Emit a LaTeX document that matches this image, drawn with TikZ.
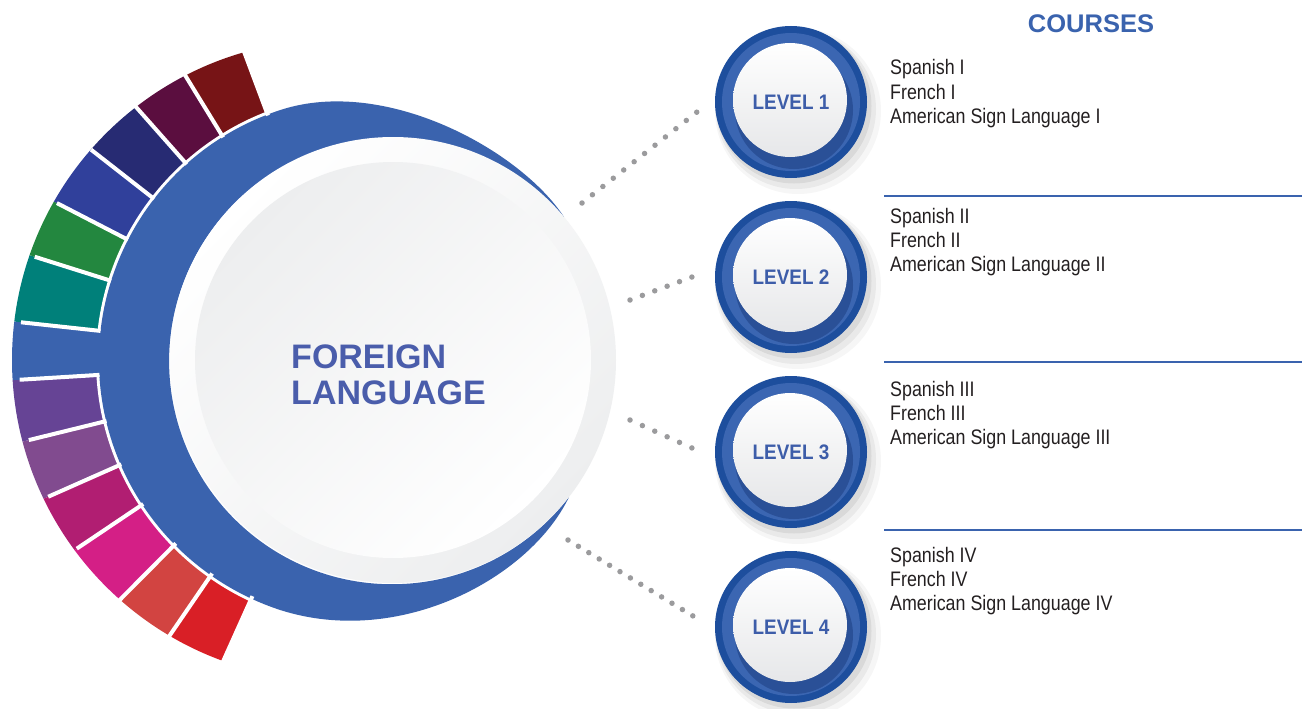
\documentclass[tikz,border=0pt]{standalone}
\usepackage{fontspec}
\setmainfont{Liberation Sans}
\newfontfamily\condfont[FakeStretch=0.85]{Liberation Sans}
\newfontfamily\lvlfont[FakeStretch=0.9]{Liberation Sans}
\definecolor{ringblue}{HTML}{3A63AE}
\definecolor{segteal}{HTML}{00807A}
\definecolor{seggreen}{HTML}{23873F}
\definecolor{segindigo}{HTML}{30409B}
\definecolor{segnavy}{HTML}{272B73}
\definecolor{segwine}{HTML}{5B0E3F}
\definecolor{segdarkred}{HTML}{771416}
\definecolor{segpurple}{HTML}{664495}
\definecolor{segviolet}{HTML}{814B8F}
\definecolor{segplum}{HTML}{B11E72}
\definecolor{segmagenta}{HTML}{D41F86}
\definecolor{segcoral}{HTML}{D24441}
\definecolor{segred}{HTML}{D91F26}
\definecolor{btndark}{HTML}{1D4E9D}
\definecolor{btnmid}{HTML}{3B66B2}
\definecolor{btnshadow}{HTML}{1B3C7E}
\definecolor{lvltext}{HTML}{3D5DA9}
\definecolor{fltext}{HTML}{4A5DAB}
\definecolor{dotgray}{HTML}{9B9B9D}
\definecolor{coursetext}{HTML}{231F20}
\definecolor{discgray}{HTML}{EDEEEF}
\definecolor{btngray}{HTML}{E6E7E9}
\begin{document}
\begin{tikzpicture}[x=1pt,y=-1pt,
  course/.style={font=\condfont\fontsize{21}{21}\selectfont, text=coursetext, inner sep=0pt, anchor=base west},
  lvl/.style={font=\lvlfont\bfseries\fontsize{21}{21}\selectfont, text=lvltext, circle, minimum size=114pt, inner sep=0pt},
  dotline/.style={dotgray, line width=5.5pt, line cap=round, dash pattern=on 0pt off #1},
  gapline/.style={white, line width=4pt},
  rulebar/.style={ringblue, line width=2pt}
]
\useasboundingbox (0,0) rectangle (1302,709);

% coloured segments
\begin{scope}
  \clip (332,360) circle[radius=320];
  \foreach \a/\b/\col in {186.2/197.5/segteal, 197.5/207.3/seggreen, 207.3/218/segindigo,
      218/228.5/segnavy, 228.5/238.5/segwine, 238.5/249.5/segdarkred,
      166.2/176.5/segpurple, 156.1/166.2/segviolet, 146.1/156.1/segplum,
      134.8/146.1/segmagenta, 124.4/134.8/segcoral, 114.2/124.4/segred}
    \fill[\col, shift={(359,359)}] (0,0) -- (\a:400) arc[start angle=\a, end angle=\b, radius=400] -- cycle;
\end{scope}
\fill[white] (362,360) circle[radius=266];

% blue crescent
\fill[ringblue] (563.8,216.7) .. controls (520,150) and (385,76) .. (280.7,109.9)
  arc[start angle=-108, end angle=-252, radius=263]
  .. controls (400,648) and (530,578) .. (569,497)
  arc[start angle=37.5, end angle=320, radius=223] -- cycle;

% blue tab
\begin{scope}
  \clip (332,360) circle[radius=320];
  \fill[ringblue, shift={(359,359)}] (176.5:230) -- (176.5:400)
    arc[start angle=176.5, end angle=186.2, radius=400] -- (186.2:230)
    arc[start angle=186.2, end angle=176.5, radius=230] -- cycle;
\end{scope}
\foreach \a in {114.2,124.4,134.8,146.1,156.1,166.2,176.5,186.2,197.5,207.3,218,228.5,238.5,249.5}
  \draw[gapline, shift={(359,359)}] (\a:260) -- (\a:340);

% central disc
\shade[top color=white, bottom color=discgray, shading angle=45] (393,360) circle[radius=223];
\shade[top color=discgray, bottom color=white, shading angle=45] (393,360) circle[radius=198];
\node[align=left, font=\bfseries\fontsize{34}{36}\selectfont, text=fltext, inner sep=0pt] (FL) at (388.5,375) {FOREIGN\\LANGUAGE};

% dotted connectors
\coordinate (d1s) at (582,203); \coordinate (d1e) at (697,112);
\coordinate (d2s) at (630,300); \coordinate (d2e) at (692,277);
\coordinate (d3s) at (630,420); \coordinate (d3e) at (692,448);
\coordinate (d4s) at (568,540); \coordinate (d4e) at (693,616);
\draw[dotline=13.3pt] (d1s) -- (d1e);
\draw[dotline=13.2pt] (d2s) -- (d2e);
\draw[dotline=13.58pt] (d3s) -- (d3e);
\draw[dotline=12.17pt] (d4s) -- (d4e);

% level buttons
\foreach \i/\y in {1/102,2/277,3/452,4/627}{
  \begin{scope}[shift={(791,\y)}]
    \fill[black, opacity=0.035] (7,9) circle[radius=83];
    \fill[black, opacity=0.05] (5,7) circle[radius=80];
    \fill[black, opacity=0.07] (3,4) circle[radius=77.5];
    \fill[btndark] (0,0) circle[radius=76];
    \fill[btnmid] (0,0) circle[radius=69];
    \fill[btnshadow, opacity=0.5] (3,8) circle[radius=59];
    \shade[top color=white, bottom color=btngray] (-1,-2) circle[radius=57];
  \end{scope}
  \node[lvl] (L\i) at (791,\y) {LEVEL \i};
}

% courses header and rules
\node[font=\bfseries\fontsize{25.5}{25.5}\selectfont, text=ringblue] (courses) at (1091,24) {COURSES};
\coordinate (r1a) at (884,196); \coordinate (r1b) at (1302,196);
\coordinate (r2a) at (884,362); \coordinate (r2b) at (1302,362);
\coordinate (r3a) at (884,530); \coordinate (r3b) at (1302,530);
\draw[rulebar] (r1a) -- (r1b);
\draw[rulebar] (r2a) -- (r2b);
\draw[rulebar] (r3a) -- (r3b);

\foreach \lv/\yb/\r in {1/75/I, 2/223/II, 3/396/III, 4/562/IV}{
  \node[course] (sp\lv) at (890,\yb) {Spanish \r};
  \node[course] (fr\lv) at (890,\yb+24.2) {French \r};
  \node[course] (asl\lv) at (890,\yb+48.4) {American Sign Language \r};
}
\end{tikzpicture}
\end{document}
